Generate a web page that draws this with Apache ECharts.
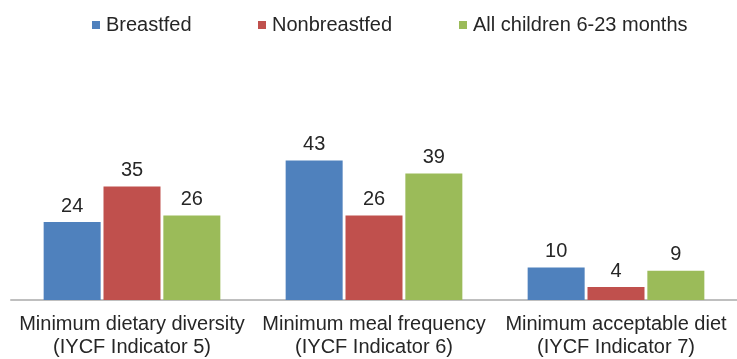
<!DOCTYPE html>
<html>
<head>
<meta charset="utf-8">
<script src="https://cdn.jsdelivr.net/npm/echarts@6/dist/echarts.min.js"></script>
<style>
  html, body { margin: 0; padding: 0; background: #ffffff; }
  #chart { width: 737px; height: 359px; }
</style>
</head>
<body>
<div id="chart"></div>
<script>
// IYCF feeding indicators by breastfeeding status (percent)
const categories = [
  'Minimum dietary diversity\n(IYCF Indicator 5)',
  'Minimum meal frequency\n(IYCF Indicator 6)',
  'Minimum acceptable diet\n(IYCF Indicator 7)'
];
const seriesNames = ['Breastfed', 'Nonbreastfed', 'All children 6-23 months'];
const breastfed = [24, 43, 10];
const nonbreastfed = [35, 26, 4];
const allChildren = [26, 39, 9];

const colors = ['#4F81BD', '#C0504D', '#9BBB59'];
const values = [breastfed, nonbreastfed, allChildren];
const FONT = '"Liberation Sans", Arial, sans-serif';
const TEXT = '#262626';

// one legend block per series so each entry sits at its own x
const legendLefts = [87, 253, 454];

const chart = echarts.init(document.getElementById('chart'));
chart.setOption({
  animation: false,
  backgroundColor: '#ffffff',
  color: colors,
  legend: seriesNames.map((name, i) => ({
    data: [name],
    left: legendLefts[i],
    top: 10,
    itemWidth: 8,
    itemHeight: 8,
    itemGap: 0,
    icon: 'rect',
    textStyle: { fontFamily: FONT, fontSize: 20, color: TEXT, padding: [0, 0, 0, 1] }
  })),
  grid: { left: 11, width: 731, top: 137.7, bottom: 56.3 },
  xAxis: {
    type: 'category',
    data: categories,
    axisTick: { show: false },
    axisLine: { lineStyle: { color: '#bfbfbf', width: 2 } },
    axisLabel: {
      interval: 0,
      margin: 13,
      fontFamily: FONT,
      fontSize: 20,
      lineHeight: 23,
      color: TEXT
    }
  },
  yAxis: {
    type: 'value',
    min: 0,
    max: 50,
    show: false,
    splitLine: { show: false }
  },
  series: seriesNames.map((name, i) => ({
    name: name,
    type: 'bar',
    data: values[i],
    barWidth: 57,
    barGap: '5%',
    itemStyle: { color: colors[i] },
    label: {
      show: true,
      position: 'top',
      distance: 6,
      fontFamily: FONT,
      fontSize: 20,
      color: TEXT
    }
  }))
});
</script>
</body>
</html>
